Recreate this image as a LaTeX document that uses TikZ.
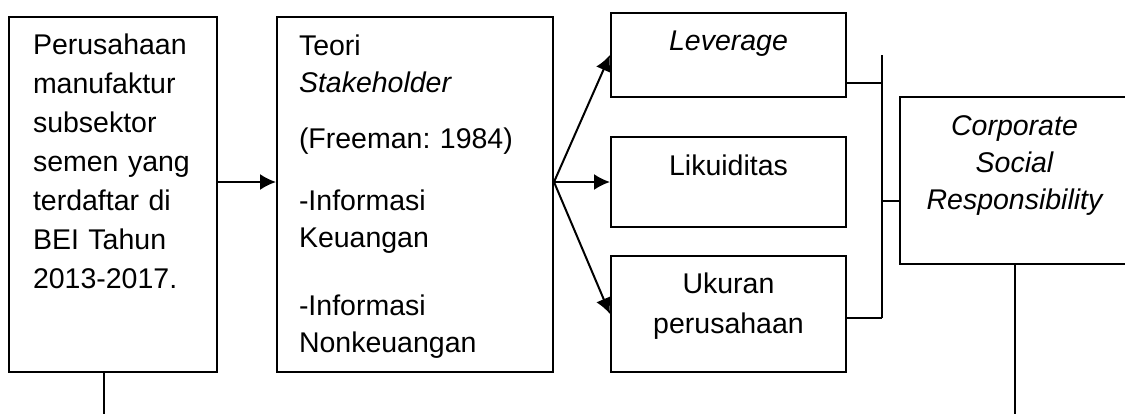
\documentclass[tikz,border=0pt]{standalone}
\usepackage{fontspec}
\setmainfont{Liberation Sans}
\frenchspacing
\usetikzlibrary{arrows.meta}
\tikzset{>={Latex[length=8pt,width=8pt]}}
\tikzset{kotak/.style={draw,inner sep=0pt},
  isi/.style={inner sep=0pt,font=\fontsize{14.25}{#1}\selectfont},
  isi/.default=19.5}

\begin{document}
\begin{tikzpicture}[x=0.5pt,y=-0.5pt,line width=1pt]
            \useasboundingbox (0,0) rectangle (1125,413);
            % kotak
            \node[kotak,minimum width=104pt,minimum height=177.5pt] (obj) at (113,194.5) {};
            \node[kotak,minimum width=138pt,minimum height=177.5pt] (teori) at (415,194.5) {};
            \node[kotak,minimum width=117.5pt,minimum height=42pt] (lev) at (728.5,55) {};
            \node[kotak,minimum width=117.5pt,minimum height=45pt] (likuid) at (728.5,182) {};
            \node[kotak,minimum width=117.5pt,minimum height=58pt] (ukuran) at (728.5,314) {};
            \node[kotak,minimum width=114.5pt,minimum height=83.5pt] (csr) at (1014.5,180.5) {};
            % teks
            \node[isi,anchor=base west,text width=95pt,align=left] (tobj) at (32,54)
                {Perusahaan\\ manufaktur\\ subsektor\\ semen yang\\ terdaftar di\\ BEI Tahun\\ 2013-2017.};
            \node[isi=18.5,anchor=base west,text width=125pt,align=left] (tteori) at (298,55)
                {Teori\\ \textit{Stakeholder}\\[9.5pt] (Freeman: 1984)\\[12.5pt] -Informasi\\ Keuangan\\[15.5pt] -Informasi\\ Nonkeuangan};
            \node[isi,anchor=base] (tlev) at (728.5,50) {\textit{Leverage}};
            \node[isi,anchor=base] (tlikuid) at (728.5,175) {Likuiditas};
            \node[isi=20,anchor=base,text width=110pt,align=center] (tukuran) at (728.5,293) {Ukuran\\ perusahaan};
            \node[isi=18.5,anchor=base,text width=110pt,align=center] (tcsr) at (1014.5,135)
                {\itshape Corporate\\ Social\\ Responsibility};
            % panah
            \coordinate (tengah) at (0,182);
            \coordinate (cabang) at (teori.east |- tengah);
            \draw[->] (obj.east |- tengah) -- (teori.west |- tengah);
            \draw[->] (cabang) -- (lev.west);
            \draw[->] (cabang) -- (likuid.west);
            \draw[->] (cabang) -- (ukuran.west);
            % kurung
            \coordinate (ka) at (882,55);
            \coordinate (kb) at (882,318);
            \draw (ka) -- (kb);
            \draw (lev.east |- 0,83) -- (ka |- 0,83);
            \draw (ukuran.east |- kb) -- (kb);
            \draw (ka |- 0,201) -- (csr.west |- 0,201);
            % garis bawah
            \coordinate (bawahkiri) at (104,415);
            \coordinate (bawahkanan) at (csr.south |- 0,415);
            \draw (obj.south -| bawahkiri) -- (bawahkiri);
            \draw (csr.south) -- (bawahkanan);
        \end{tikzpicture}
\end{document}
